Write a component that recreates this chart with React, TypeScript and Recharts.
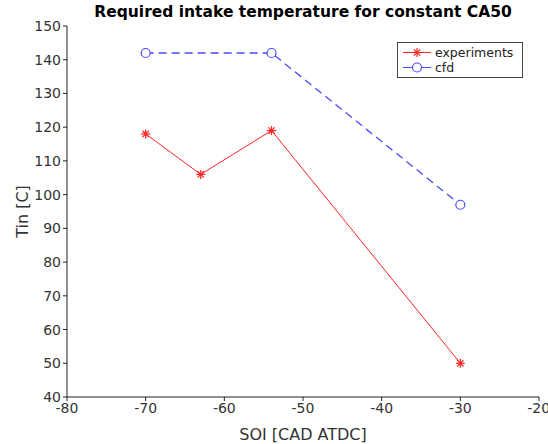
import React from 'react';
import { LineChart, Line, XAxis, YAxis } from 'recharts';

const experimentsX = [-70, -63, -54, -30];
const experimentsY = [118, 106, 119, 50];
const cfdX = [-70, -54, -30];
const cfdY = [142, 142, 97];
const xTicks = [-80, -70, -60, -50, -40, -30, -20];
const yTicks = [40, 50, 60, 70, 80, 90, 100, 110, 120, 130, 140, 150];

const experiments = experimentsX.map((x, i) => ({ x, y: experimentsY[i] }));
const cfd = cfdX.map((x, i) => ({ x, y: cfdY[i] }));

const RED = '#ff2020';
const BLUE = '#4a4aff';

const Star = (props: any) => {
  const { cx, cy } = props;
  if (cx == null || cy == null) return null;
  const r = 4.5;
  const d = r * 0.707;
  return (
    <g stroke={RED} strokeWidth={1.2}>
      <line x1={cx - r} y1={cy} x2={cx + r} y2={cy} />
      <line x1={cx} y1={cy - r} x2={cx} y2={cy + r} />
      <line x1={cx - d} y1={cy - d} x2={cx + d} y2={cy + d} />
      <line x1={cx - d} y1={cy + d} x2={cx + d} y2={cy - d} />
    </g>
  );
};

const Circ = (props: any) => {
  const { cx, cy } = props;
  if (cx == null || cy == null) return null;
  return <circle cx={cx} cy={cy} r={4.5} fill="white" stroke={BLUE} strokeWidth={1.2} />;
};

const LegendBox = () => (
  <div
    style={{
      position: 'absolute',
      left: 397,
      top: 42,
      border: '1px solid #444',
      background: 'white',
      width: 126,
      height: 36,
      fontFamily: 'DejaVu Sans',
      fontSize: 12.5,
      color: '#222',
      boxSizing: 'border-box',
      padding: '2px 3px',
      lineHeight: '15px',
    }}
  >
    <div style={{ display: 'flex', alignItems: 'center' }}>
      <svg width={32} height={15}>
        <line x1={2} y1={7.5} x2={30} y2={7.5} stroke={RED} strokeWidth={1} />
        <Star cx={16} cy={7.5} />
      </svg>
      <span style={{ marginLeft: 2 }}>experiments</span>
    </div>
    <div style={{ display: 'flex', alignItems: 'center' }}>
      <svg width={32} height={15}>
        <line x1={2} y1={7.5} x2={30} y2={7.5} stroke={BLUE} strokeWidth={1} />
        <Circ cx={16} cy={7.5} />
      </svg>
      <span style={{ marginLeft: 2 }}>cfd</span>
    </div>
  </div>
);

export default function App() {
  return (
    <div style={{ position: 'absolute', left: 0, top: 0, width: 548, height: 444, background: 'white' }}>
      <div
        style={{
          position: 'absolute',
          left: 0,
          width: 606,
          top: 3,
          textAlign: 'center',
          fontFamily: 'DejaVu Sans',
          fontWeight: 'bold',
          fontSize: 15.5,
          color: '#000',
        }}
      >
        Required intake temperature for constant CA50
      </div>
      <LineChart
        width={548}
        height={444}
        margin={{ top: 26, right: 9, bottom: 0, left: 27 }}
        style={{ fontFamily: 'DejaVu Sans' }}
      >
        <XAxis
          type="number"
          dataKey="x"
          domain={[-80, -20]}
          ticks={xTicks}
          allowDataOverflow
          stroke="#222"
          tickSize={4}
          tick={{ fill: '#333', fontSize: 14 }}
          label={{ value: 'SOI [CAD ATDC]', position: 'insideBottom', offset: 4, fill: '#333', fontSize: 16 }}
          height={47}
        />
        <YAxis
          type="number"
          dataKey="y"
          domain={[40, 150]}
          ticks={yTicks}
          allowDataOverflow
          stroke="#222"
          tickSize={4}
          width={40}
          tick={{ fill: '#333', fontSize: 14 }}
          label={{ value: 'Tin [C]', angle: -90, position: 'insideLeft', offset: -5, fill: '#333', fontSize: 16, style: { textAnchor: 'middle' } }}
        />
        <Line
          data={experiments}
          dataKey="y"
          name="experiments"
          stroke={RED}
          strokeWidth={1}
          dot={<Star />}
          activeDot={false}
          isAnimationActive={false}
        />
        <Line
          data={cfd}
          dataKey="y"
          name="cfd"
          stroke={BLUE}
          strokeWidth={1.3}
          strokeDasharray="8 5"
          dot={<Circ />}
          activeDot={false}
          isAnimationActive={false}
        />
      </LineChart>
      <LegendBox />
    </div>
  );
}
